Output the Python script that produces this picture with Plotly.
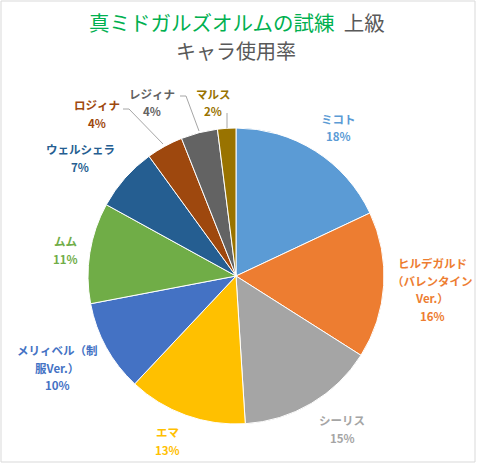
import plotly.graph_objects as go

W, H = 480, 465

# data (percent of usage)
chars = ["ミコト", "ヒルデガルド（バレンタインVer.）", "シーリス", "エマ",
         "メリィベル（制服Ver.）", "ムム", "ウェルシェラ", "ロジィナ",
         "レジィナ", "マルス"]
shown = ["ミコト", "ヒルデガルド<br>（バレンタイン<br>Ver.）", "シーリス", "エマ",
         "メリィベル（制<br>服Ver.）", "ムム", "ウェルシェラ", "ロジィナ",
         "レジィナ", "マルス"]
usage = [18, 16, 15, 13, 10, 11, 7, 4, 4, 2]
colors = ["#5B9BD5", "#ED7D31", "#A5A5A5", "#FFC000", "#4472C4",
          "#70AD47", "#255E91", "#9E480E", "#636363", "#997300"]

# label placement in px (centre x, y of first line)
label_pos = [(338, 119), (432, 263), (342, 420), (167, 432), (57, 350),
             (65, 241), (80, 149), (97, 105), (152, 94), (213, 94)]

# leader lines in px
leaders = [
    [(123, 109), (129, 109), (163, 144)],
    [(180, 96), (186, 96), (199, 131)],
    [(227, 113), (227, 128)],
]

FONT = "Noto Sans CJK JP"


def px(x, y):
    return x / W, 1 - y / H


cx, cy, r = 236, 276, 148
x0, y1 = px(cx - r, cy - r)
x1, y0 = px(cx + r, cy + r)

fig = go.Figure()
fig.add_trace(go.Pie(labels=chars,
                     values=usage,
                     sort=False,
                     direction="clockwise",
                     rotation=0,
                     marker=dict(colors=colors, line=dict(color="white", width=1)),
                     textinfo="none",
                     hoverinfo="label+percent",
                     showlegend=False,
                     domain=dict(x=[x0, x1], y=[y0, y1])))

total = sum(usage)
annotations = []
for name, v, col, (lx, ly) in zip(shown, usage, colors, label_pos):
    lines = name.split("<br>") + [f"{v / total * 100:.0f}%"]
    for i, t in enumerate(lines):
        ax, ay = px(lx, ly + i * 17.5)
        annotations.append(dict(x=ax, y=ay, xref="paper", yref="paper",
                                text=f"<b>{t}</b>", showarrow=False,
                                xanchor="center", yanchor="middle",
                                font=dict(family=FONT, size=11.5, color=col)))

# title
tx, ty = px(237, 22)
annotations.append(dict(x=tx, y=ty, xref="paper", yref="paper", showarrow=False,
                        text="<span style='color:#00B050'>真ミドガルズオルムの試練</span>&nbsp; 上級",
                        xanchor="center", yanchor="middle",
                        font=dict(family=FONT, size=20.5, color="#595959")))
tx, ty = px(236, 50)
annotations.append(dict(x=tx, y=ty, xref="paper", yref="paper", showarrow=False,
                        text="キャラ使用率", xanchor="center", yanchor="middle",
                        font=dict(family=FONT, size=20, color="#595959")))

shapes = []
for pts in leaders:
    path = ""
    for i, (lx, ly) in enumerate(pts):
        qx, qy = px(lx, ly)
        path += ("M" if i == 0 else "L") + f"{qx},{qy} "
    shapes.append(dict(type="path", path=path.strip(), xref="paper", yref="paper",
                       line=dict(color="#A6A6A6", width=1)))

bx0, by1 = px(1, 1)
bx1, by0 = px(475, 462)
shapes.append(dict(type="rect", xref="paper", yref="paper",
                   x0=bx0, x1=bx1, y0=by0, y1=by1,
                   line=dict(color="#D9D9D9", width=1)))

fig.update_layout(width=W, height=H,
                  margin=dict(l=0, r=0, t=0, b=0),
                  paper_bgcolor="white",
                  plot_bgcolor="white",
                  annotations=annotations,
                  shapes=shapes)

# drop the default page margin so the figure sits at the window's corner
fig.write_html("out.html", config={"displayModeBar": False},
               post_script="document.body.style.margin='0';")
